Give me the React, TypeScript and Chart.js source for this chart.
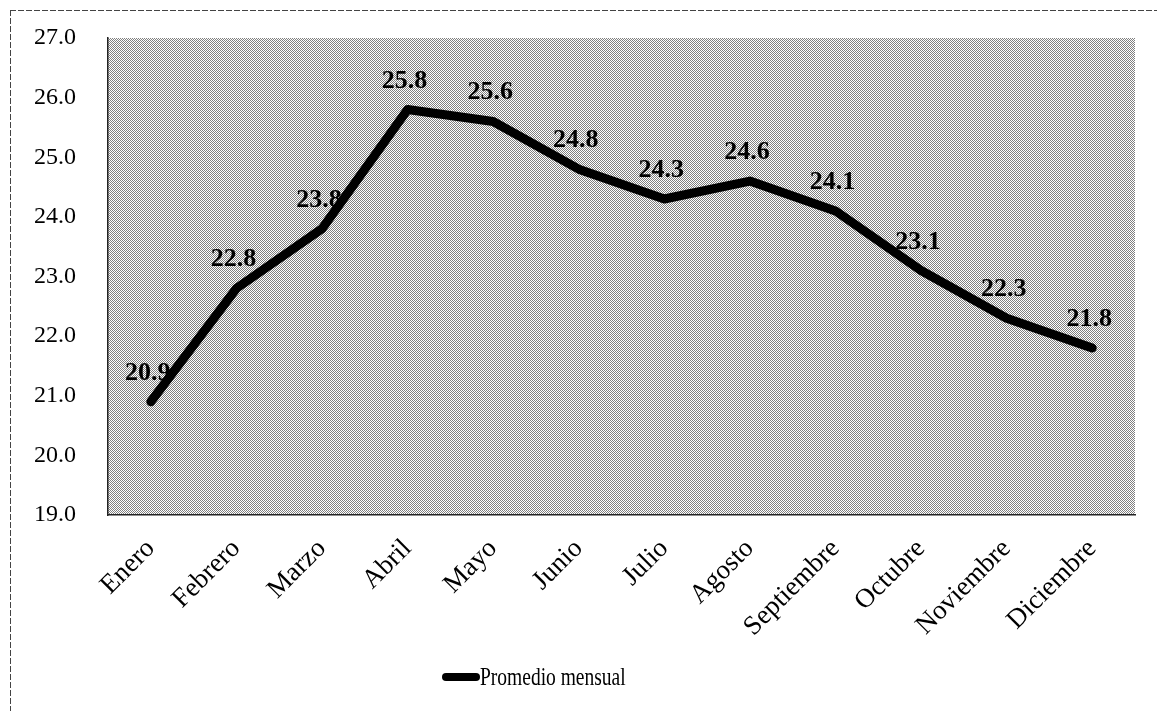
import React, { useEffect, useRef } from "react";
import { Chart, registerables } from "chart.js";

Chart.register(...registerables);

const months = [
  "Enero", "Febrero", "Marzo", "Abril", "Mayo", "Junio",
  "Julio", "Agosto", "Septiembre", "Octubre", "Noviembre", "Diciembre",
];
const promedioMensual = [20.9, 22.8, 23.8, 25.8, 25.6, 24.8, 24.3, 24.6, 24.1, 23.1, 22.3, 21.8];
const seriesName = "Promedio mensual";
const yMin = 19;
const yMax = 27;

const SERIF = "'Liberation Serif', 'Times New Roman', serif";

function makePattern(ctx: CanvasRenderingContext2D) {
  const c = document.createElement("canvas");
  c.width = 2;
  c.height = 2;
  const p = c.getContext("2d")!;
  p.fillStyle = "#ffffff";
  p.fillRect(0, 0, 2, 2);
  p.fillStyle = "#808080";
  p.fillRect(0, 0, 1, 1);
  p.fillRect(1, 1, 1, 1);
  return ctx.createPattern(c, "repeat");
}

const decorPlugin = {
  id: "decor",
  beforeDraw(chart: any) {
    const { ctx, chartArea } = chart;
    ctx.save();
    ctx.fillStyle = "#ffffff";
    ctx.fillRect(0, 0, chart.width, chart.height);
    const pat = makePattern(ctx);
    if (pat) ctx.fillStyle = pat;
    ctx.fillRect(chartArea.left, chartArea.top, chartArea.right - chartArea.left, chartArea.bottom - chartArea.top);
    // outer frame (top and left, dashed scan-like)
    ctx.strokeStyle = "#444";
    ctx.lineWidth = 1;
    ctx.setLineDash([6, 2]);
    ctx.beginPath();
    ctx.moveTo(10, 10.5);
    ctx.lineTo(chart.width, 10.5);
    ctx.moveTo(10.5, 10);
    ctx.lineTo(10.5, chart.height);
    ctx.stroke();
    ctx.restore();
  },
  afterDatasetsDraw(chart: any) {
    const { ctx } = chart;
    const meta = chart.getDatasetMeta(0);
    const data = chart.data.datasets[0].data as number[];
    ctx.save();
    ctx.fillStyle = "#000";
    ctx.font = `bold 26px ${SERIF}`;
    ctx.textAlign = "center";
    ctx.textBaseline = "alphabetic";
    meta.data.forEach((pt: any, i: number) => {
      ctx.fillText(data[i].toFixed(1), pt.x - 3, pt.y - 22);
    });
    ctx.restore();
  },
  afterDraw(chart: any) {
    const { ctx } = chart;
    const ds = chart.data.datasets[0];
    ctx.save();
    ctx.strokeStyle = ds.borderColor;
    ctx.lineWidth = 8;
    ctx.lineCap = "round";
    ctx.beginPath();
    ctx.moveTo(446, 677);
    ctx.lineTo(476, 677);
    ctx.stroke();
    ctx.fillStyle = "#000";
    ctx.font = `26px ${SERIF}`;
    ctx.textAlign = "left";
    ctx.textBaseline = "alphabetic";
    ctx.translate(480, 685);
    ctx.scale(0.75, 1);
    ctx.fillText(ds.label, 0, 0);
    ctx.restore();
  },
};

export default function App() {
  const ref = useRef<HTMLCanvasElement | null>(null);
  useEffect(() => {
    document.body.style.margin = "0";
    const chart = new Chart(ref.current!, {
      type: "line",
      data: {
        labels: months,
        datasets: [
          {
            label: seriesName,
            data: promedioMensual,
            borderColor: "#000000",
            backgroundColor: "#000000",
            borderWidth: 9,
            pointRadius: 0,
            tension: 0,
            borderCapStyle: "round",
            borderJoinStyle: "round",
          },
        ],
      },
      options: {
        animation: false,
        responsive: false,
        devicePixelRatio: 1,
        layout: { padding: { left: 10, right: 22, top: 38, bottom: 0 } },
        plugins: {
          legend: { display: false },
          tooltip: { enabled: false },
        },
        scales: {
          x: {
            offset: true,
            grid: { display: false, drawTicks: false },
            border: { display: true, color: "#222", width: 1.5 },
            ticks: {
              color: "#000",
              font: { family: SERIF, size: 27 },
              maxRotation: 45,
              minRotation: 45,
              padding: 18,
              autoSkip: false,
            },
            afterFit(scale: any) {
              scale.height = 196;
            },
          },
          y: {
            min: yMin,
            max: yMax,
            grid: { display: false, drawTicks: false },
            border: { display: true, color: "#222", width: 1.5 },
            ticks: {
              stepSize: 1,
              color: "#000",
              font: { family: SERIF, size: 24 },
              padding: 32,
              callback: (v: any) => Number(v).toFixed(1),
            },
            afterFit(scale: any) {
              scale.width = 98;
              scale.paddingTop = 0;
              scale.paddingBottom = 0;
            },
          },
        },
      },
      plugins: [decorPlugin],
    });
    return () => chart.destroy();
  }, []);
  return (
    <div style={{ width: 1157, height: 711 }}>
      <canvas ref={ref} width={1157} height={711} style={{ display: "block" }} />
    </div>
  );
}
